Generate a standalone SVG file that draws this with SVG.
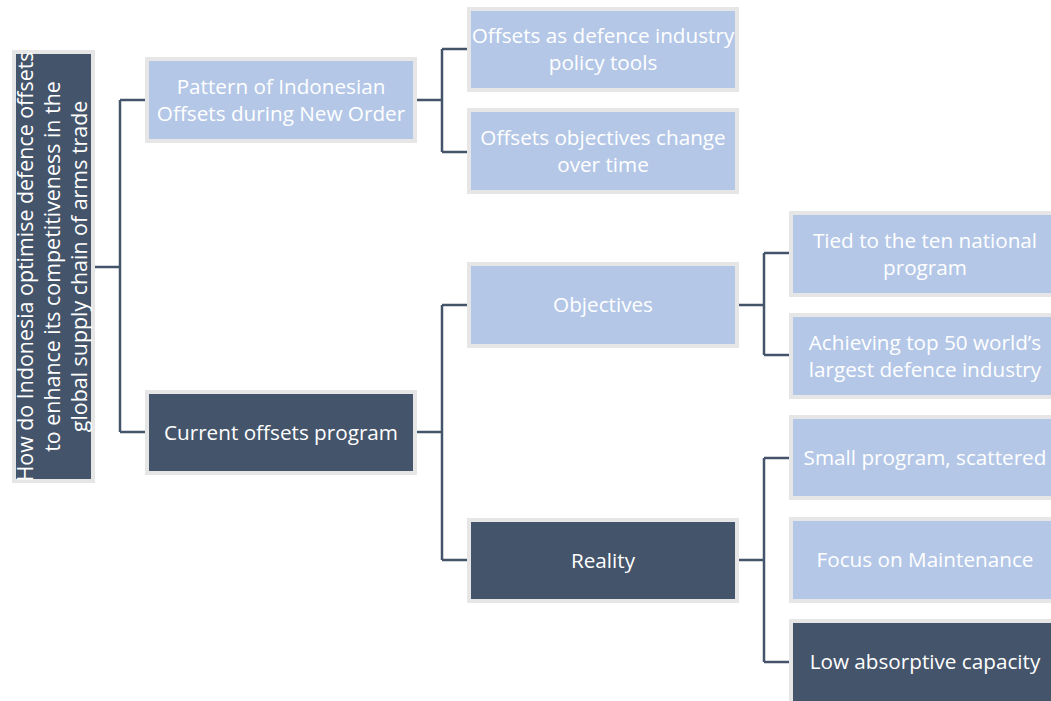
<svg xmlns="http://www.w3.org/2000/svg" width="1051" height="701" viewBox="0 0 1051 701">
<style>
.lt{fill:#b4c7e7;stroke:#e7e6e6;stroke-width:4}
.dk{fill:#44546a;stroke:#e7e6e6;stroke-width:4}
.t{font-family:"Open Sans","Noto Sans",sans-serif;font-size:20.7px;fill:#ffffff;text-anchor:middle}
.rt{font-size:21.4px}
.c{fill:none;stroke:#44546a;stroke-width:2.5}
</style>
<rect width="1051" height="701" fill="#ffffff"/>
<g id="connectors">
<path class="c" d="M95 267H120M120 100V432M120 100H147M120 432H147"/>
<path class="c" d="M417 100H442M442 49V152M442 49H469M442 152H469"/>
<path class="c" d="M417 432H442M442 305V560M442 305H469M442 560H469"/>
<path class="c" d="M739 305H764M764 253V355M764 253H791M764 355H791"/>
<path class="c" d="M739 560H764M764 458V662M764 458H791M764 662H791"/>
</g>
<g id="root">
<rect class="dk" x="14" y="52" width="79" height="429"/>
<text class="t rt" transform="translate(53.5,266.5) rotate(-90)"><tspan x="0" y="-20.5">How do Indonesia optimise defence offsets</tspan><tspan x="0" y="6.5">to enhance its competitiveness in the</tspan><tspan x="0" y="33.5">global supply chain of arms trade</tspan></text>
</g>
<g id="pattern">
<rect class="lt" x="147" y="59" width="268" height="82"/>
<text class="t"><tspan x="281" y="93.5">Pattern of Indonesian</tspan><tspan x="281" y="120.5">Offsets during New Order</tspan></text>
</g>
<g id="offsets-tools">
<rect class="lt" x="469" y="9" width="268" height="81"/>
<text class="t"><tspan x="603" y="43">Offsets as defence industry</tspan><tspan x="603" y="70">policy tools</tspan></text>
</g>
<g id="offsets-change">
<rect class="lt" x="469" y="110" width="268" height="82"/>
<text class="t"><tspan x="603" y="144.5">Offsets objectives change</tspan><tspan x="603" y="171.5">over time</tspan></text>
</g>
<g id="current">
<rect class="dk" x="147" y="392" width="268" height="81"/>
<text class="t" x="281" y="439.5">Current offsets program</text>
</g>
<g id="objectives">
<rect class="lt" x="469" y="264" width="268" height="82"/>
<text class="t" x="603" y="312">Objectives</text>
</g>
<g id="reality">
<rect class="dk" x="469" y="520" width="268" height="81"/>
<text class="t" x="603" y="567.5">Reality</text>
</g>
<g id="tied">
<rect class="lt" x="791" y="213" width="268" height="82"/>
<text class="t"><tspan x="925" y="247.5">Tied to the ten national</tspan><tspan x="925" y="274.5">program</tspan></text>
</g>
<g id="achieving">
<rect class="lt" x="791" y="315" width="268" height="82"/>
<text class="t"><tspan x="925" y="349.5">Achieving top 50 world’s</tspan><tspan x="925" y="376.5">largest defence industry</tspan></text>
</g>
<g id="small">
<rect class="lt" x="791" y="417" width="268" height="81"/>
<text class="t" x="925" y="464.5">Small program, scattered</text>
</g>
<g id="focus">
<rect class="lt" x="791" y="519" width="268" height="82"/>
<text class="t" x="925" y="567">Focus on Maintenance</text>
</g>
<g id="low">
<rect class="dk" x="791" y="621" width="268" height="82"/>
<text class="t" x="925" y="669">Low absorptive capacity</text>
</g>
</svg>
